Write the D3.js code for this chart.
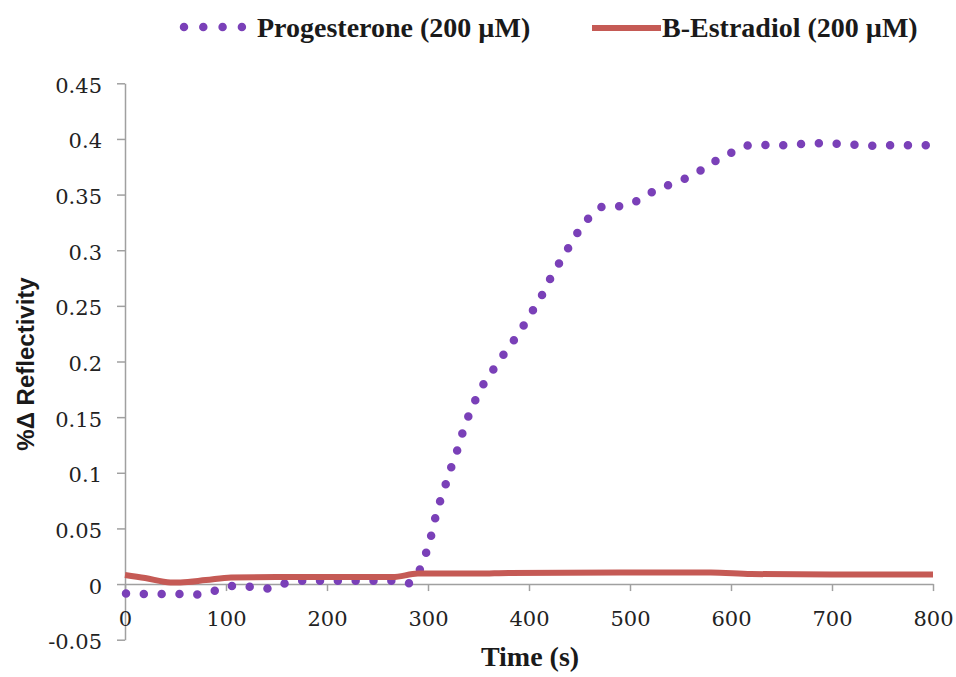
<!DOCTYPE html>
<html>
<head>
<meta charset="utf-8">
<script src="https://cdn.jsdelivr.net/npm/d3@7"></script>
<style>
  body { margin: 0; background: #fff; }
  svg { display: block; }
</style>
</head>
<body>
<script>
"use strict";

// data: time (s) and % change in reflectivity
var progTime = [1, 19, 37, 55, 72, 89, 107, 124, 141, 158, 175, 193, 211, 228, 246, 264, 281.5,
  292, 298, 303, 307, 312, 317.5, 323, 329, 334, 340, 347, 355, 365, 375, 385, 395, 404, 413,
  421, 430, 439, 448, 459, 472, 489, 506, 521.5, 538, 554.5, 570, 584.5, 601, 617, 635, 652.5,
  669, 687, 704, 722, 740, 757, 775.5, 794];
var progValue = [-0.0084, -0.009, -0.009, -0.009, -0.0093, -0.006, -0.0015, -0.0024, -0.0039,
  0.0006, 0.003, 0.003, 0.003, 0.003, 0.003, 0.003, 0.0006,
  0.0132, 0.0276, 0.0431, 0.0587, 0.0746, 0.0896, 0.1049, 0.1204, 0.1354, 0.1507, 0.1656,
  0.1797, 0.1932, 0.2064, 0.219, 0.2328, 0.2462, 0.26, 0.2744, 0.2885, 0.3022, 0.3157, 0.3289,
  0.3391, 0.3395, 0.3439, 0.352, 0.3586, 0.3643, 0.3716, 0.3802, 0.388, 0.3943, 0.3945, 0.3943,
  0.3954, 0.3961, 0.3957, 0.3948, 0.3939, 0.3943, 0.3943, 0.3943];

var estTime = [0, 20, 45, 55, 80, 105, 150, 200, 265, 290, 350, 380, 500, 580, 620, 700, 800];
var estValue = [0.0081, 0.0054, 0.0015, 0.0015, 0.0036, 0.006, 0.0063, 0.0063, 0.0063, 0.0094,
  0.0094, 0.01, 0.0103, 0.0103, 0.009, 0.0085, 0.0085];

var seriesNames = ["Progesterone (200 \u00b5M)", "B-Estradiol (200 \u00b5M)"];
var seriesColors = ["#7a40b8", "#c55a55"];

var xTicks = [0, 100, 200, 300, 400, 500, 600, 700, 800];
var yTicks = [-0.05, 0, 0.05, 0.1, 0.15, 0.2, 0.25, 0.3, 0.35, 0.4, 0.45];
var yTickLabels = ["-0.05", "0", "0.05", "0.1", "0.15", "0.2", "0.25", "0.3", "0.35", "0.4", "0.45"];

var width = 956, height = 677;

var xScale = d3.scaleLinear().domain([0, 800]).range([125, 933]);
var yScale = d3.scaleLinear().domain([-0.05, 0.45]).range([639.7, 83.3]);

var svg = d3.select("body").append("svg")
    .attr("width", width)
    .attr("height", height);

var tickFont = "'DejaVu Serif', serif";
var titleFont = "'Liberation Serif', serif";

// y axis
var yAxis = d3.axisLeft(yScale)
    .tickValues(yTicks)
    .tickFormat(function(d, i) { return yTickLabels[i]; })
    .tickSizeInner(8)
    .tickSizeOuter(0)
    .tickPadding(15);

var gY = svg.append("g")
    .attr("transform", "translate(" + xScale(0) + ",0)")
    .call(yAxis);

// x axis sits on the zero line
var xAxis = d3.axisBottom(xScale)
    .tickValues(xTicks)
    .tickSizeInner(7)
    .tickSizeOuter(0);

var gX = svg.append("g")
    .attr("transform", "translate(0," + yScale(0) + ")")
    .call(xAxis);

gX.selectAll("text").attr("y", 42).attr("dy", null);
gY.selectAll("text").attr("dy", 9);

[gX, gY].forEach(function(g) {
  g.select(".domain").attr("stroke", "#a0a0a0").attr("stroke-width", 1.5);
  g.selectAll(".tick line").attr("stroke", "#a0a0a0").attr("stroke-width", 1.5);
  g.selectAll("text")
    .attr("fill", "#222")
    .style("font-family", tickFont)
    .style("font-size", "21px");
});

// progesterone: round-dot line
var line = d3.line()
    .x(function(d) { return xScale(d[0]); })
    .y(function(d) { return yScale(d[1]); });

var progData = progTime.map(function(t, i) { return [t, progValue[i]]; });
var progPath = svg.append("path")
    .datum(progData)
    .attr("d", line)
    .attr("fill", "none")
    .attr("stroke", seriesColors[0])
    .attr("stroke-width", 8.5)
    .attr("stroke-linecap", "round");
var len = progPath.node().getTotalLength();
// a hair shorter than the mean spacing so the last dot is not dropped
progPath.attr("stroke-dasharray", "0 " + (len / (progData.length - 1) - 0.02));

// estradiol: smooth solid line
var smooth = d3.line()
    .curve(d3.curveMonotoneX)
    .x(function(d) { return xScale(d[0]); })
    .y(function(d) { return yScale(d[1]); });

svg.append("path")
    .datum(estTime.map(function(t, i) { return [t, estValue[i]]; }))
    .attr("d", smooth)
    .attr("fill", "none")
    .attr("stroke", seriesColors[1])
    .attr("stroke-width", 6);

// legend
var legend = svg.append("g");
legend.append("line")
    .attr("x1", 184).attr("x2", 242)
    .attr("y1", 27).attr("y2", 27)
    .attr("stroke", seriesColors[0])
    .attr("stroke-width", 8.5)
    .attr("stroke-linecap", "round")
    .attr("stroke-dasharray", "0 19.3");
legend.append("text")
    .attr("x", 257).attr("y", 37)
    .text(seriesNames[0]);
legend.append("line")
    .attr("x1", 592).attr("x2", 661)
    .attr("y1", 28).attr("y2", 28)
    .attr("stroke", seriesColors[1])
    .attr("stroke-width", 6);
legend.append("text")
    .attr("x", 662).attr("y", 37)
    .text(seriesNames[1]);
legend.selectAll("text")
    .attr("fill", "#1a1a1a")
    .style("font-family", titleFont)
    .style("font-weight", "bold")
    .style("font-size", "28px");

// axis titles
svg.append("text")
    .attr("x", 530).attr("y", 666)
    .attr("text-anchor", "middle")
    .attr("fill", "#1a1a1a")
    .style("font-family", titleFont)
    .style("font-weight", "bold")
    .style("font-size", "28px")
    .text("Time (s)");

svg.append("text")
    .attr("transform", "translate(34,364) rotate(-90)")
    .attr("text-anchor", "middle")
    .attr("fill", "#1a1a1a")
    .style("font-family", "'Liberation Sans', sans-serif")
    .style("font-weight", "bold")
    .style("font-size", "24px")
    .text("%\u0394 Reflectivity");
</script>
</body>
</html>
